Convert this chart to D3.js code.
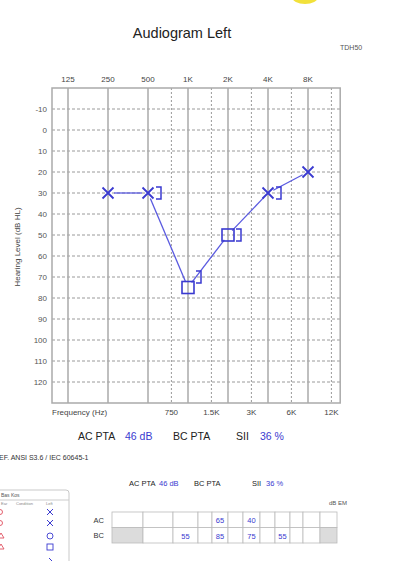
<!DOCTYPE html>
<html><head><meta charset="utf-8">
<script src="https://cdn.jsdelivr.net/npm/d3@7"></script>
<style>html,body{margin:0;padding:0;background:#fff;}svg{display:block;}</style>
</head><body>
<script>
// ---- data ----
const octaveFreqs = [125, 250, 500, 1000, 2000, 4000, 8000];
const octaveLabels = ["125", "250", "500", "1K", "2K", "4K", "8K"];
const interFreqs = [750, 1500, 3000, 6000, 12000];
const interLabels = ["750", "1.5K", "3K", "6K", "12K"];
const dbTicks = [-10, 0, 10, 20, 30, 40, 50, 60, 70, 80, 90, 100, 110, 120];

const acFreqs = [250, 500, 1000, 2000, 4000, 8000];
const acValues = [30, 30, 75, 50, 30, 20];
const acSymbols = ["x", "x", "square", "square", "x", "x"];
const bcFreqs = [500, 1000, 2000, 4000];
const bcValues = [30, 70, 50, 30];

const tableCols = [125, 250, 500, 750, 1000, 1500, 2000, 3000, 4000, 6000, 8000, 12000];
const tableAC = ["", "", "", "", "65", "", "40", "", "", "", "", ""];
const tableBC = ["", "", "55", "", "85", "", "75", "", "55", "", "", ""];

const acPTA = "46 dB", sii = "36 %";

// ---- layout ----
const W = 402, H = 561;
const svg = d3.select("body").append("svg").attr("width", W).attr("height", H);
const font = "'Liberation Sans', Arial, sans-serif";
const blue = "#3a3ad0", lineBlue = "#5a5ae0";

const x = d3.scaleLog().base(2).domain([125, 8000]).range([68, 308]);
const y = d3.scaleLinear().domain([-20, 130]).range([88, 403]);
const left = x(125 * Math.pow(2, -0.4)), right = x(12000 * Math.pow(2, 0.22));

// yellow blob
svg.append("ellipse").attr("cx", 305).attr("cy", -3).attr("rx", 13).attr("ry", 7).attr("fill", "#f2e13a");

// title
svg.append("text").attr("x", 182).attr("y", 38).attr("text-anchor", "middle")
  .attr("font-family", font).attr("font-size", 14.5).attr("fill", "#222").text("Audiogram Left");
svg.append("text").attr("x", 340).attr("y", 50).attr("font-family", font).attr("font-size", 7)
  .attr("fill", "#555").text("TDH50");

const g = svg.append("g");
// horizontal dashed grid
g.selectAll("line.h").data(dbTicks).join("line")
  .attr("x1", left).attr("x2", right).attr("y1", d => y(d)).attr("y2", d => y(d))
  .attr("stroke", "#9a9a9a").attr("stroke-width", 1).attr("stroke-dasharray", "3,2");
// interoctave dotted verticals
g.selectAll("line.i").data(interFreqs).join("line")
  .attr("x1", d => x(d)).attr("x2", d => x(d)).attr("y1", y(-20)).attr("y2", y(130))
  .attr("stroke", "#9a9a9a").attr("stroke-width", 1).attr("stroke-dasharray", "2,2");
// octave solid verticals
g.selectAll("line.o").data(octaveFreqs).join("line")
  .attr("x1", d => x(d)).attr("x2", d => x(d)).attr("y1", y(-20)).attr("y2", y(130))
  .attr("stroke", "#aaa").attr("stroke-width", 1.5);
// frame
g.append("rect").attr("x", left).attr("y", y(-20)).attr("width", right - left).attr("height", y(130) - y(-20))
  .attr("fill", "none").attr("stroke", "#aaa").attr("stroke-width", 1.5);

// top labels
svg.selectAll("text.top").data(octaveFreqs).join("text")
  .attr("x", d => x(d)).attr("y", 82).attr("text-anchor", "middle")
  .attr("font-family", font).attr("font-size", 8).attr("fill", "#444")
  .text((d, i) => octaveLabels[i]);
// bottom labels
svg.selectAll("text.bot").data(interFreqs).join("text")
  .attr("x", d => x(d)).attr("y", 415).attr("text-anchor", "middle")
  .attr("font-family", font).attr("font-size", 8).attr("fill", "#444")
  .text((d, i) => interLabels[i]);
svg.append("text").attr("x", 52).attr("y", 415).attr("font-family", font).attr("font-size", 8)
  .attr("fill", "#444").text("Frequency (Hz)");
// y labels
svg.selectAll("text.yl").data(dbTicks).join("text")
  .attr("x", 47).attr("y", d => y(d) + 3).attr("text-anchor", "end")
  .attr("font-family", font).attr("font-size", 8).attr("fill", "#555").text(d => d);
svg.append("text").attr("transform", "translate(20,247) rotate(-90)").attr("text-anchor", "middle")
  .attr("font-family", font).attr("font-size", 8).attr("fill", "#444").text("Hearing Level (dB HL)");

// AC line with gaps at markers
const pts = acFreqs.map((f, i) => [x(f), y(acValues[i])]);
const gap = 6;
for (let i = 0; i < pts.length - 1; i++) {
  const [x1, y1] = pts[i], [x2, y2] = pts[i + 1];
  const dx = x2 - x1, dy = y2 - y1, L = Math.hypot(dx, dy);
  const ux = dx / L, uy = dy / L;
  svg.append("line").attr("x1", x1 + ux * gap).attr("y1", y1 + uy * gap)
    .attr("x2", x2 - ux * gap).attr("y2", y2 - uy * gap)
    .attr("stroke", lineBlue).attr("stroke-width", 1.3);
}
// AC markers
acFreqs.forEach((f, i) => {
  const cx = x(f), cy = y(acValues[i]);
  if (acSymbols[i] === "x") {
    const s = 5.5;
    svg.append("path").attr("d", `M${cx - s},${cy - s}L${cx + s},${cy + s}M${cx - s},${cy + s}L${cx + s},${cy - s}`)
      .attr("stroke", blue).attr("stroke-width", 1.8).attr("fill", "none");
  } else {
    svg.append("rect").attr("x", cx - 6).attr("y", cy - 6).attr("width", 12).attr("height", 12)
      .attr("fill", "none").attr("stroke", blue).attr("stroke-width", 1.6);
  }
});
// BC masked brackets "]"
bcFreqs.forEach((f, i) => {
  const cx = x(f) + 8, cy = y(bcValues[i]);
  svg.append("path").attr("d", `M${cx},${cy - 6}H${cx + 5}V${cy + 6}H${cx}`)
    .attr("stroke", blue).attr("stroke-width", 1.5).attr("fill", "none");
});

// PTA summary line 1
const s1 = svg.append("g").attr("font-family", font).attr("font-size", 10.5);
s1.append("text").attr("x", 78).attr("y", 440).attr("fill", "#222").text("AC PTA");
s1.append("text").attr("x", 125).attr("y", 440).attr("fill", blue).text(acPTA);
s1.append("text").attr("x", 173).attr("y", 440).attr("fill", "#222").text("BC PTA");
s1.append("text").attr("x", 236).attr("y", 440).attr("fill", "#222").text("SII");
s1.append("text").attr("x", 260).attr("y", 440).attr("fill", blue).text(sii);

svg.append("text").attr("x", -1).attr("y", 460).attr("font-family", font).attr("font-size", 7)
  .attr("fill", "#333").text("EF. ANSI S3.6 / IEC 60645-1");

// PTA summary line 2
const s2 = svg.append("g").attr("font-family", font).attr("font-size", 7.5);
s2.append("text").attr("x", 129).attr("y", 486).attr("fill", "#222").text("AC PTA");
s2.append("text").attr("x", 159).attr("y", 486).attr("fill", blue).text(acPTA);
s2.append("text").attr("x", 194).attr("y", 486).attr("fill", "#222").text("BC PTA");
s2.append("text").attr("x", 252).attr("y", 486).attr("fill", "#222").text("SII");
s2.append("text").attr("x", 266).attr("y", 486).attr("fill", blue).text(sii);
svg.append("text").attr("x", 347).attr("y", 505).attr("text-anchor", "end").attr("font-family", font)
  .attr("font-size", 6).attr("fill", "#555").text("dB EM");

// table
const colEdges = [112, 143, 173, 198, 212, 228, 243, 260, 275, 290, 303, 320, 337];
const tx = d3.scaleOrdinal().domain(tableCols).range(colEdges.slice(0, -1));
const tw = d3.scaleOrdinal().domain(tableCols).range(colEdges.slice(1).map((e, i) => e - colEdges[i]));
const rowY = [512, 527.5], rowH = 15.5;
const tbl = svg.append("g");
[tableAC, tableBC].forEach((row, r) => {
  tableCols.forEach((c, i) => {
    const gray = r === 1 && (i === 0 || i === tableCols.length - 1);
    tbl.append("rect").attr("x", tx(c)).attr("y", rowY[r]).attr("width", tw(c)).attr("height", rowH)
      .attr("fill", gray ? "#dcdcdc" : "#fff").attr("stroke", "#bbb").attr("stroke-width", 0.8);
    if (row[i]) tbl.append("text").attr("x", tx(c) + tw(c) / 2).attr("y", rowY[r] + 11)
      .attr("text-anchor", "middle").attr("font-family", font).attr("font-size", 7.5)
      .attr("fill", blue).text(row[i]);
  });
  tbl.append("text").attr("x", 104).attr("y", rowY[r] + 10.5).attr("text-anchor", "end")
    .attr("font-family", font).attr("font-size", 7.5).attr("fill", "#333").text(r === 0 ? "AC" : "BC");
});

// legend box (partially cropped)
const lg = svg.append("g").attr("font-family", font);
lg.append("rect").attr("x", -10).attr("y", 490).attr("width", 79).attr("height", 90).attr("rx", 3)
  .attr("fill", "#fff").attr("stroke", "#bbb").attr("stroke-width", 0.8);
lg.append("line").attr("x1", -10).attr("x2", 69).attr("y1", 500).attr("y2", 500).attr("stroke", "#ccc");
lg.append("text").attr("x", 1).attr("y", 497).attr("font-size", 5).attr("fill", "#555").text("Bas Kos");
lg.append("text").attr("x", 1).attr("y", 505).attr("font-size", 4).attr("fill", "#888").text("Ear");
lg.append("text").attr("x", 16).attr("y", 505).attr("font-size", 4).attr("fill", "#888").text("Condition");
lg.append("text").attr("x", 46).attr("y", 505).attr("font-size", 4).attr("fill", "#888").text("Left");
const red = "#e05060";
[512, 523].forEach(yy => lg.append("circle").attr("cx", 0).attr("cy", yy).attr("r", 2.5)
  .attr("fill", "none").attr("stroke", red).attr("stroke-width", 0.9));
[536, 547].forEach(yy => lg.append("path").attr("d", `M-2,${yy + 2}L1,${yy - 3}L4,${yy + 2}Z`)
  .attr("fill", "none").attr("stroke", red).attr("stroke-width", 0.9));
[512, 523].forEach(yy => lg.append("path").attr("d", `M47,${yy - 3}L53,${yy + 3}M47,${yy + 3}L53,${yy - 3}`)
  .attr("stroke", blue).attr("stroke-width", 1));
lg.append("circle").attr("cx", 50).attr("cy", 536).attr("r", 3).attr("fill", "none").attr("stroke", blue).attr("stroke-width", 0.9);
lg.append("rect").attr("x", 47).attr("y", 544).attr("width", 6).attr("height", 6).attr("fill", "none").attr("stroke", blue).attr("stroke-width", 0.9);
lg.append("path").attr("d", "M49,558L52,561").attr("stroke", blue).attr("stroke-width", 1);
</script>
</body></html>
